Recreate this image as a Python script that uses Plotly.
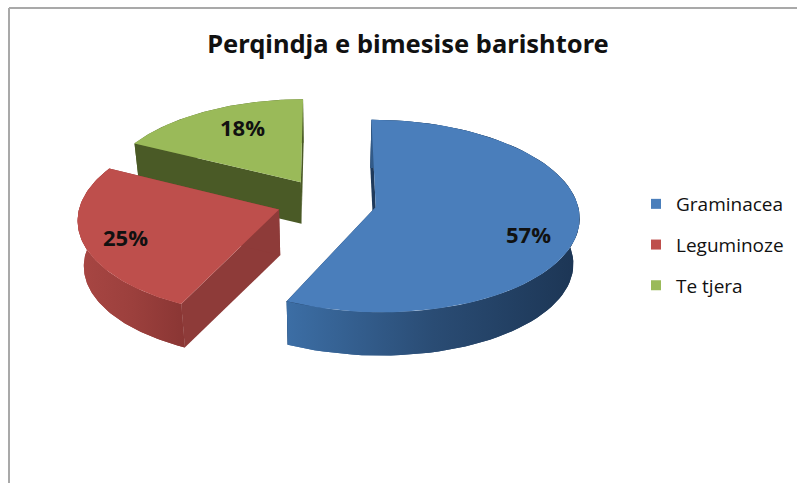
import math
import plotly.graph_objects as go

TITLE = "Perqindja e bimesise barishtore"
CATEGORIES = ["Graminacea", "Leguminoze", "Te tjera"]
VALUES = [57.0, 25.4, 17.6]
LABELS = ["57%", "25%", "18%"]

TOP_COLORS = ["#4a7ebb", "#be4f4c", "#9aba59"]
ARC_SHADES = [["#3c6ea5", "#2a4c74", "#1c3554"], ["#a84643", "#9c403d", "#8a3634"], ["#55682c", "#55682c", "#55682c"]]
CUT_COLORS = ["#1f3a5c", "#8e3b39", "#4a5a26"]

# camera of the tilted pie (pixel space of the 797x483 page)
VANISH_X, CENTER_Y = 326.6, 201.8
RX, RY, PERSPECTIVE, SIDEWAYS = 200.0, 94.3, 0.094, 0.005
EXPLODE = 0.25
BOTTOM_SCALE = 0.975
THICKNESS = [46, 46, 41]
LABEL_PIXELS = [(528, 234), (125, 237), (242, 127)]


def project(u, v, depth=0.0, scale=1.0):
    w = 1 + PERSPECTIVE * v - SIDEWAYS * u
    return VANISH_X + scale * RX * u / w, CENTER_Y + depth - scale * RY * v / w


def slice_points(t0, t1, eu, ev, depth=0.0, scale=1.0, n=80):
    xs, ys = [], []
    for i in range(n + 1):
        t = math.radians(t0 + (t1 - t0) * i / n)
        x, y = project(eu + math.sin(t), ev + math.cos(t), depth, scale)
        xs.append(x)
        ys.append(y)
    return xs, ys


def shaded(x, y, shades):
    scale = [[i / (len(shades) - 1), c] for i, c in enumerate(shades)]
    return go.Scatter(x=x, y=y, mode="lines", line=dict(width=0), fill="toself",
                      fillgradient=dict(type="horizontal", colorscale=scale),
                      hoverinfo="skip", showlegend=False)


def flat(x, y, color):
    return go.Scatter(x=x, y=y, mode="lines", line=dict(width=0), fill="toself",
                      fillcolor=color, hoverinfo="skip", showlegend=False)


total = sum(VALUES)
spans, start = [], 0.0
for value in VALUES:
    spans.append((start, start + 360 * value / total))
    start = spans[-1][1]

fig = go.Figure()
# back to front: green, red, blue
for i in [2, 1, 0]:
    t0, t1 = spans[i]
    mid = math.radians((t0 + t1) / 2)
    eu, ev = EXPLODE * math.sin(mid), EXPLODE * math.cos(mid)
    d = THICKNESS[i]
    # arc side
    ax0, ay0 = slice_points(t0, t1, eu, ev)
    ax1, ay1 = slice_points(t0, t1, eu, ev, d, BOTTOM_SCALE)
    fig.add_trace(shaded(ax0 + ax1[::-1], ay0 + ay1[::-1], ARC_SHADES[i]))
    # cut faces
    for t in (t0, t1):
        r = math.radians(t)
        a = project(eu, ev)
        b = project(eu + math.sin(r), ev + math.cos(r))
        c = project(eu + math.sin(r), ev + math.cos(r), d, BOTTOM_SCALE)
        e = project(eu, ev, d, BOTTOM_SCALE)
        fig.add_trace(flat([a[0], b[0], c[0], e[0]], [a[1], b[1], c[1], e[1]], CUT_COLORS[i]))
    # redraw front arc over the cut faces on the blue and red slices
    if i != 2:
        fig.add_trace(shaded(ax0 + ax1[::-1], ay0 + ay1[::-1], ARC_SHADES[i]))
    # top face
    a = project(eu, ev)
    fig.add_trace(flat([a[0]] + ax0, [a[1]] + ay0, TOP_COLORS[i]))

for name, color in zip(CATEGORIES, TOP_COLORS):
    fig.add_trace(go.Scatter(x=[None], y=[None], mode="markers", name=name, legendgroup=name,
                             marker=dict(symbol="square", size=10, color=color)))

for text, (x, y) in zip(LABELS, LABEL_PIXELS):
    fig.add_annotation(x=x, y=y, text=f"<b>{text}</b>", showarrow=False,
                       font=dict(family="Open Sans", size=22, color="#111111"))

fig.update_layout(
    width=797, height=483, margin=dict(l=0, r=0, t=0, b=0),
    paper_bgcolor="white", plot_bgcolor="white",
    title=dict(text=f"<b>{TITLE}</b>", x=408 / 797, y=1 - 44 / 483, xanchor="center", yanchor="middle",
               font=dict(family="Noto Sans", size=25.5, color="#111111")),
    xaxis=dict(range=[0, 797], visible=False, fixedrange=True),
    yaxis=dict(range=[483, 0], visible=False, fixedrange=True),
    legend=dict(x=636 / 797, y=1 - 185 / 483, xanchor="left", yanchor="top", tracegroupgap=13,
                font=dict(family="Open Sans", size=19, color="#111111"), bgcolor="rgba(0,0,0,0)"),
    shapes=[
        dict(type="line", xref="x", yref="y", x0=9, x1=797, y0=8, y1=8, line=dict(color="#a9a9a9", width=2)),
        dict(type="line", xref="x", yref="y", x0=9, x1=9, y0=8, y1=483, line=dict(color="#a9a9a9", width=2)),
    ],
)

fig.write_html("out.html", config={"displayModeBar": False},
               post_script="document.body.style.margin='0';document.documentElement.style.overflow='hidden';")
